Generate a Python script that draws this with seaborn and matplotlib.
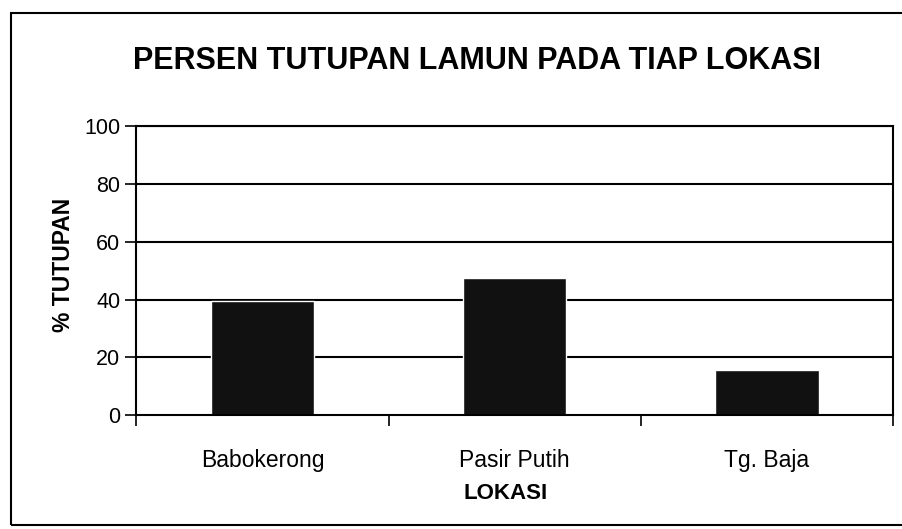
import matplotlib
matplotlib.use("Agg")
import matplotlib.pyplot as plt
import seaborn as sns
import pandas as pd
from matplotlib.patches import Rectangle

lokasi = ["Babokerong", "Pasir Putih", "Tg. Baja"]
tutupan = [39.5, 47.5, 15.5]
yticks = [0, 20, 40, 60, 80, 100]

df = pd.DataFrame({"lokasi": lokasi, "tutupan": tutupan})

sns.set_style("white", {"text.color": "black", "xtick.color": "black",
                        "ytick.color": "black", "axes.labelcolor": "black"})
plt.rcParams["font.family"] = ["Liberation Sans", "DejaVu Sans"]

fig = plt.figure(figsize=(9.03, 5.29), dpi=100)
ax = fig.add_axes([0.151, 0.215, 0.838, 0.547])

sns.barplot(data=df, x="lokasi", y="tutupan", color="#111111",
            saturation=1, width=0.41, ax=ax)

ax.set_ylim(0, 100)
ax.set_xlim(-0.5, 2.5)
ax.set_yticks(yticks)
for y in yticks[1:]:
    ax.axhline(y, color="black", lw=1.5, zorder=0)

# ticks between categories
ax.set_xticks([-0.5, 0.5, 1.5, 2.5], minor=True)
ax.tick_params(axis="x", which="major", length=0, labelsize=16.5, pad=24)
ax.tick_params(axis="x", which="minor", length=8, width=1.2, direction="out", color="black")
ax.tick_params(axis="y", length=8, width=1.2, direction="out", labelsize=15.5, color="black")
ax.yaxis.set_ticks_position("left")
ax.xaxis.set_ticks_position("bottom")

for s in ax.spines.values():
    s.set_visible(True)
    s.set_color("black")
    s.set_linewidth(1.5)

ax.set_xlabel("")
ax.set_ylabel("")

fig.text(0.528, 0.885, "PERSEN TUTUPAN LAMUN PADA TIAP LOKASI",
         ha="center", va="center", fontsize=22, fontweight="bold", color="black")
fig.text(0.07, 0.5, "% TUTUPAN", rotation=90, ha="center", va="center",
         fontsize=16.5, fontweight="bold", color="black")
fig.text(0.56, 0.068, "LOKASI", ha="center", va="center",
         fontsize=16, fontweight="bold", color="black")

# outer chart frame
fig.patches.append(Rectangle((0.012, 0.008), 1.1, 0.968, transform=fig.transFigure,
                             fill=False, edgecolor="black", lw=1.5, clip_on=False))

fig.savefig("out.png", dpi=100)
